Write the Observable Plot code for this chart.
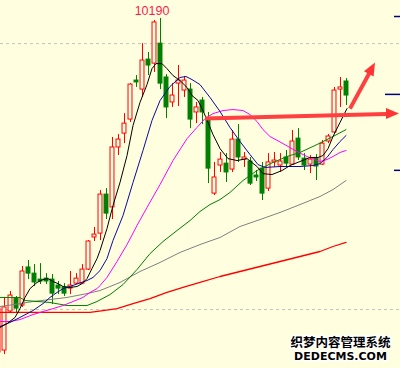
<!DOCTYPE html>
<html><head><meta charset="utf-8">
<script src="https://cdn.jsdelivr.net/npm/d3@7"></script>
<script src="https://cdn.jsdelivr.net/npm/@observablehq/plot@0.6"></script>
<style>html,body{margin:0;padding:0;background:#ffffe0;} #chart svg{display:block}</style>
</head><body><div id="chart"></div>
<script>
// ---- candles (index -1 is partly cut at the left edge) ----
const candleIndex = d3.range(-1, 58);
const open  = [8453,8463,8666,8733,8697,8895,8863,8832,8837,8832,8801,8791,8785,8811,8811,8884,9051,9071,9274,9207,9519,9591,9664,9867,9820,9976,9955,10059,9883,9753,9851,9815,9820,9701,9763,9669,9279,9425,9435,9404,9560,9456,9446,9373,9409,9305,9441,9425,9467,9430,9565,9461,9430,9461,9430,9550,9597,9820,9862];
const close = [8681,8687,8749,8681,8874,8863,8817,8822,8822,8759,8785,8759,8801,8837,8884,9030,9066,9274,9175,9519,9560,9643,9846,9857,9971,9945,10169,9851,9727,9789,9867,9867,9664,9727,9701,9409,9363,9456,9389,9560,9467,9467,9331,9363,9279,9441,9451,9446,9435,9550,9467,9425,9456,9420,9539,9576,9815,9831,9789];
const high  = [8697,8739,8770,8744,8900,8931,8910,8915,8863,8858,8822,8811,8874,8863,8910,9035,9103,9295,9305,9571,9586,9695,9851,9893,10059,10013,10179,10190,9898,9851,9945,9888,9851,9753,9779,9701,9441,9493,9487,9607,9638,9493,9467,9399,9441,9487,9493,9487,9503,9607,9617,9487,9477,9482,9555,9586,9831,9883,9877];
const low   = [8437,8442,8655,8655,8687,8832,8796,8806,8806,8702,8754,8744,8754,8806,8806,8879,9030,9035,9144,9144,9477,9539,9649,9831,9779,9893,9909,9820,9669,9727,9732,9779,9617,9643,9638,9331,9269,9389,9337,9389,9441,9415,9321,9342,9243,9290,9415,9389,9415,9425,9451,9399,9383,9347,9425,9539,9591,9727,9737];

// ---- moving averages (x = candle index) ----
const ma5X = [-0.75,0.42,1.75,2.58,3.42,4.25,5.42,6.42,7.25,8.08,8.92,9.75,10.92,12.08,12.92,13.75,14.58,15.42,15.92,17.08,18.08,19.25,20.42,21.42,22.58,23.75,24.58,25.25,26.25,27.08,28.08,29.25,30.42,31.25,32.25,33.08,33.92,34.75,35.92,37.25,38.75,40.42,42.08,43.08,44.58,46.25,47.58,49.25,50.92,52.25,53.08,53.92,54.75,55.92,57.08];
const ma5V = [8583,8603,8635,8681,8739,8785,8817,8832,8837,8822,8811,8796,8791,8796,8811,8837,8889,8941,8983,9097,9217,9337,9477,9633,9753,9846,9929,9955,9955,9929,9893,9867,9831,9789,9763,9711,9649,9586,9513,9461,9451,9461,9420,9383,9378,9399,9425,9446,9467,9467,9477,9513,9576,9649,9721];
const ma10X = [-0.75,0.92,2.58,4.75,6.42,7.58,8.75,9.75,10.92,12.25,13.75,14.75,15.92,17.08,18.08,19.75,21.42,23.08,24.58,25.92,27.58,29.25,30.25,31.25,32.58,34.25,35.92,37.58,39.25,40.92,42.25,43.42,45.92,49.25,51.42,52.58,53.75,54.75,55.92,56.92];
const ma10V = [8588,8609,8635,8671,8707,8739,8765,8785,8796,8811,8827,8843,8879,8941,9035,9165,9337,9503,9659,9763,9836,9883,9888,9872,9846,9779,9706,9623,9550,9482,9430,9415,9420,9420,9425,9435,9467,9508,9550,9581];
const ma20X = [-0.75,0.92,2.58,4.75,6.42,8.08,9.75,11.42,13.08,14.25,15.42,15.92,17.08,18.75,20.42,22.08,23.75,25.92,28.08,30.42,32.08,33.42,34.75,36.42,38.08,39.75,40.92,42.08,43.08,44.25,46.42,48.75,50.42,51.75,52.58,53.75,54.75,55.92,56.92];
const ma20V = [8614,8614,8624,8650,8666,8681,8697,8718,8739,8765,8785,8801,8843,8926,9014,9113,9207,9326,9451,9565,9623,9669,9695,9711,9716,9711,9690,9654,9612,9576,9539,9498,9472,9456,9446,9456,9472,9493,9503];
const ma30X = [-0.75,2.58,3.42,7.58,10.42,13.75,15.42,17.58,19.75,22.08,24.25,26.42,28.75,30.92,32.58,34.25,35.92,37.58,39.75,42.08,44.75,47.08,49.25,52.08,54.75,56.92];
const ma30V = [8739,8739,8723,8713,8697,8697,8718,8754,8806,8884,8967,9030,9087,9139,9186,9222,9248,9285,9347,9399,9441,9472,9493,9534,9576,9612];
const ma60X = [-0.75,2.58,4.75,7.58,10.42,13.75,15.92,19.25,22.58,25.92,29.25,32.58,35.92,39.25,42.58,45.92,49.25,52.58,54.75,56.92];
const ma60V = [8692,8707,8718,8728,8739,8759,8775,8817,8874,8921,8973,9014,9051,9108,9144,9181,9222,9264,9300,9347];
const ma120X = [-0.75,14.25,16.42,18.75,21.42,24.25,27.08,29.75,32.58,35.92,39.25,42.58,45.92,49.25,52.58,54.75,56.92];
const ma120V = [8661,8661,8671,8681,8707,8733,8765,8791,8817,8848,8874,8900,8926,8952,8978,9004,9025];

// ---- reference levels, right-edge ticks, arrows, watermark ----
const dashLevels = [10059, 8676];
const rightTicks = [10200, 9795, 9400];
const arrowH = [{x1: 33.42, y1: 9669, x2: 63.6, y2: 9693, tx: 65.75, ty: 9695}];
const arrowU = [{x1: 57.58, y1: 9721, x2: 60.8, y2: 9905, tx: 61.75, ty: 9961}];
const watermarkCn = ["织梦内容管理系统"];
const watermarkEn = ["DEDECMS.COM"];

const BG = "#ffffe0";
const candles = candleIndex.map((i, k) => ({i, open: open[k], close: close[k], high: high[k], low: low[k]}));
const up = candles.filter(d => d.close >= d.open);
const down = candles.filter(d => d.close < d.open);
const pts = (xs, vs) => xs.map((x, k) => ({x, v: vs[k]}));
const hiK = d3.maxIndex(high);
const hiLabel = [{i: candleIndex[hiK], v: high[hiK], t: String(high[hiK])}];
const W = 0.33;

// arrowhead symbol: tip at the origin, pointing up before rotation
const headSymbol = {draw(ctx) { ctx.moveTo(0, 0); ctx.lineTo(-5.5, 13); ctx.lineTo(5.5, 13); ctx.closePath(); }};

const maLine = (xs, vs, stroke, sw = 1) => Plot.line(pts(xs, vs), {x: "x", y: "v", stroke, strokeWidth: sw});

const plot = Plot.plot({
  width: 400, height: 368, margin: 0,
  style: {background: BG, overflow: "hidden"},
  x: {type: "linear", domain: [-2/3, 66], axis: null},
  y: {type: "linear", domain: [8369.6, 10283.2], axis: null},
  marks: [
    Plot.ruleY(dashLevels, {y: d => d, stroke: "#c0c0c0", strokeDasharray: "3,3"}),
    Plot.ruleY(rightTicks, {y: d => d, x1: (d, k) => k === 1 ? 63.5 : 65, x2: 66, stroke: "#000080", strokeWidth: 1.5}),
    Plot.ruleX(up, {x: "i", y1: "low", y2: "high", stroke: "#ff0000"}),
    Plot.ruleX(down, {x: "i", y1: "low", y2: "high", stroke: "#008000"}),
    Plot.rect(up, {x1: d => d.i - W, x2: d => d.i + W, y1: "open", y2: "close", fill: BG, stroke: "#ff0000"}),
    Plot.rect(down, {x1: d => d.i - W, x2: d => d.i + W, y1: "open", y2: "close", fill: "#008000", stroke: "#008000"}),
    maLine(ma120X, ma120V, "#ff0000", 1.3),
    maLine(ma60X, ma60V, "#808080"),
    maLine(ma30X, ma30V, "#008000"),
    maLine(ma20X, ma20V, "#ff00ff"),
    maLine(ma10X, ma10V, "#0a0aa0"),
    maLine(ma5X, ma5V, "#000000"),
    Plot.link(arrowH, {x1: "x1", y1: "y1", x2: "x2", y2: "y2", stroke: "#ff4040", strokeWidth: 4, ariaLabel: "arrow-h"}),
    Plot.link(arrowU, {x1: "x1", y1: "y1", x2: "x2", y2: "y2", stroke: "#ff4040", strokeWidth: 4, ariaLabel: "arrow-u"}),
    Plot.dot(arrowH, {x: "tx", y: "ty", symbol: headSymbol, r: 5, rotate: 90, fill: "#ff3535", stroke: "none"}),
    Plot.dot(arrowU, {x: "tx", y: "ty", symbol: headSymbol, r: 5, rotate: 28.5, fill: "#ff3535", stroke: "none"}),
    Plot.text(hiLabel, {x: "i", y: "v", text: "t", dx: -8.5, dy: -3, lineAnchor: "bottom", fill: "#ff1a4a",
      fontSize: 12.5, fontFamily: "Liberation Sans, Arial, sans-serif"}),
    Plot.text(watermarkCn, {text: d => d, frameAnchor: "bottom-right", textAnchor: "middle", dx: -60, dy: -22,
      fontSize: 12.5, fontWeight: "bold", fontFamily: "Noto Sans CJK SC", fill: "#000", stroke: "#fff", strokeWidth: 3, ariaLabel: "wm-cn"}),
    Plot.text(watermarkEn, {text: d => d, frameAnchor: "bottom-right", textAnchor: "middle", dx: -60, dy: -9,
      fontSize: 11, fontWeight: "bold", fontFamily: "DejaVu Sans", fill: "#000", stroke: "#fff", strokeWidth: 3, ariaLabel: "wm-en"})
  ]
});

const ns = "http://www.w3.org/2000/svg";
const defs = document.createElementNS(ns, "defs");
defs.innerHTML = `
<linearGradient id="gH" x1="0" y1="0" x2="1" y2="0">
  <stop offset="0" stop-color="#f7b4b4"/>
  <stop offset="0.5" stop-color="#f77a7a"/>
  <stop offset="1" stop-color="#ff3a3a"/>
</linearGradient>
<linearGradient id="gU" x1="0" y1="1" x2="0" y2="0">
  <stop offset="0" stop-color="#f7a0a0"/>
  <stop offset="1" stop-color="#ff3a3a"/>
</linearGradient>`;
plot.insertBefore(defs, plot.firstChild);
plot.querySelectorAll('g[aria-label="arrow-h"] path').forEach(p => p.setAttribute("stroke", "url(#gH)"));
plot.querySelectorAll('g[aria-label="arrow-u"] path').forEach(p => p.setAttribute("stroke", "url(#gU)"));
plot.querySelectorAll('g[aria-label="wm-en"] text').forEach(t => t.setAttribute("letter-spacing", "1.8"));
plot.querySelectorAll('g[aria-label="wm-cn"] text').forEach(t => t.setAttribute("letter-spacing", "0.3"));
document.getElementById("chart").appendChild(plot);
</script>
</body></html>
